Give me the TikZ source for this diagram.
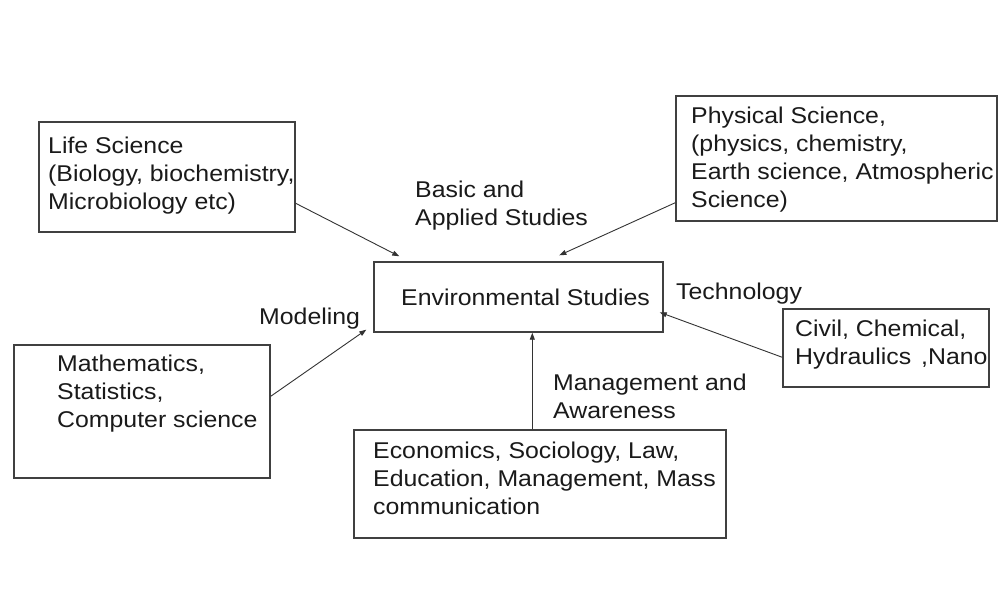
\documentclass[tikz,border=0pt]{standalone}
\usepackage{fontspec}
\setmainfont{Liberation Sans}[FakeStretch=1.09]
\usetikzlibrary{arrows.meta,calc}
\definecolor{boxcol}{HTML}{404040}
\definecolor{txtcol}{HTML}{1A1A1A}
\definecolor{arrcol}{HTML}{333333}
\begin{document}
\begin{tikzpicture}[x=1pt,y=-1pt,
  box/.style={draw=boxcol,line width=1.4pt,inner sep=0pt,rectangle},
  txt/.style={inner sep=0pt,anchor=base west,align=left,text=txtcol,
    font=\fontsize{22.8}{28}\selectfont},
  arr/.style={draw=arrcol,line width=0.9pt,-{Triangle[length=7pt,width=5pt]}}]
\useasboundingbox (0,0) rectangle (1000,600);
\fill[white] (0,0) rectangle (1000,600);
% boxes
\node[box,minimum width=256,minimum height=110] (life) at (167,177) {};
\node[box,minimum width=321,minimum height=125] (phys) at (836.5,158.5) {};
\node[box,minimum width=289,minimum height=70] (env) at (518.5,297) {};
\node[box,minimum width=206,minimum height=78] (civil) at (886,348) {};
\node[box,minimum width=256,minimum height=133] (math) at (142,411.5) {};
\node[box,minimum width=372,minimum height=108] (econ) at (540,484) {};
% box texts (anchor is the baseline of the last line)
\node[txt] (lifetxt) at (48,209) {Life Science\\(Biology, biochemistry,\\Microbiology etc)};
\node[txt] (phystxt) at (691,207) {Physical Science,\\(physics, chemistry,\\Earth science, Atmospheric\\Science)};
\node[txt] (envtxt) at (401,305) {Environmental Studies};
\node[txt] (civiltxt) at (795,364) {Civil, Chemical,\\Hydraulics\hspace{10pt},Nano};
\node[txt] (mathtxt) at (57,427) {Mathematics,\\Statistics,\\Computer science};
\node[txt] (econtxt) at (373,514) {Economics, Sociology, Law,\\Education, Management, Mass\\communication};
% labels
\node[txt] (basic) at (415,225) {Basic and\\Applied Studies};
\node[txt] (tech) at (676,299) {Technology};
\node[txt] (model) at (259,324) {Modeling};
\node[txt] (mgmt) at (553,418) {Management and\\Awareness};
% connectors
\draw[arr] ($(life.north east)+(0,82)$) -- ($(env.north west)+(26,-5)$);
\draw[arr] ($(phys.south west)+(0,-19)$) -- ($(env.north west)+(186,-6)$);
\draw[arr] ($(civil.north west)+(0,49)$) -- ($(env.north east)+(-4,51)$);
\draw[arr] ($(math.north east)+(0,52)$) -- ($(env.south west)+(-7,-3)$);
\coordinate (mstart) at ($(econ.north west)+(179,0)$);
\draw[arr] (mstart) -- (mstart |- env.south);
\end{tikzpicture}
\end{document}
